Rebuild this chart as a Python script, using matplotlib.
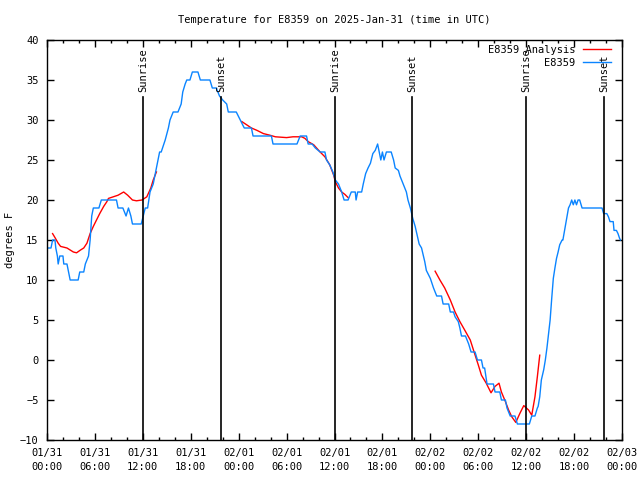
import matplotlib
matplotlib.use("Agg")
from matplotlib import pyplot as plt
from matplotlib.ticker import MultipleLocator

# hours since 2025-01-31 00:00 UTC
obs_hours = [0.1, 0.5, 0.7, 1.0, 1.1, 1.3, 1.4, 1.6, 2.0, 2.1, 2.5, 2.7, 2.9, 3.9, 4.1, 4.6, 4.8, 5.2,
             5.4, 5.6, 5.8, 6.5, 6.8, 8.7, 8.9, 9.5, 9.9, 10.2, 10.5, 10.7, 11.8, 12.3, 12.6, 12.9, 13.3,
             13.7, 14.1, 14.3, 14.8, 15.2, 15.4, 15.8, 16.4, 16.8, 17.0, 17.3, 17.5, 17.9, 18.2, 18.9,
             19.2, 20.4, 20.7, 21.2, 21.6, 22.0, 22.5, 22.7, 23.7, 24.2, 24.7, 25.6, 25.8, 28.1, 28.3,
             31.3, 31.7, 32.5, 32.7, 33.2, 33.6, 34.2, 34.8, 35.0, 35.4, 35.8, 36.1, 36.5, 36.9, 37.2,
             37.7, 38.1, 38.6, 38.7, 38.9, 39.4, 39.6, 39.9, 40.2, 40.5, 40.8, 41.1, 41.4, 41.6, 41.8,
             42.0, 42.2, 42.5, 43.1, 43.4, 43.6, 44.0, 44.2, 44.6, 45.0, 45.2, 45.5, 45.8, 46.1, 46.3,
             46.6, 46.9, 47.3, 47.5, 48.0, 48.4, 48.8, 49.4, 49.6, 50.3, 50.5, 50.9, 51.1, 51.5, 51.7,
             51.9, 52.4, 52.8, 53.1, 53.6, 53.9, 54.4, 54.6, 54.8, 55.1, 55.9, 56.1, 56.7, 56.9, 57.4,
             57.6, 58.0, 58.6, 58.9, 60.4, 60.7, 61.1, 61.4, 61.5, 61.7, 61.9, 62.2, 62.4, 62.6, 62.8,
             63.0, 63.2, 63.4, 63.6, 63.8, 64.0, 64.2, 64.5, 64.6, 64.9, 65.1, 65.3, 65.5, 65.7, 65.9,
             66.1, 66.3, 66.5, 66.7, 67.0, 69.5, 69.7, 70.1, 70.3, 70.5, 70.9, 71.0, 71.3, 71.5, 71.7,
             71.8]
obs_temp = [14, 14, 15, 15, 14, 13, 12, 13, 13, 12, 12, 11, 10, 10, 11, 11, 12, 13,
            15, 18, 19, 19, 20, 20, 19, 19, 18, 19, 18, 17, 17, 19, 19, 21, 22,
            24, 26, 26, 27.5, 29, 30, 31, 31, 32, 33.5, 34.5, 35, 35, 36, 36,
            35, 35, 34, 34, 33, 32.5, 32, 31, 31, 30, 29, 29, 28, 28, 27,
            27, 28, 28, 27, 27, 26.5, 26, 26, 25, 24.4, 23.5, 22.5, 22, 21, 20,
            20, 21, 21, 20, 21, 21, 22, 23.3, 24, 24.6, 25.8, 26.2, 27, 26, 25,
            26, 25, 26, 26, 25, 24, 23.7, 23, 22, 21, 20, 19, 17.7, 16.7, 15.8,
            14.5, 14, 12.3, 11.2, 10.2, 9, 8, 8, 7, 7, 6, 6, 5.4, 4.8, 4,
            3, 3, 2, 1, 1, 0, 0, -1, -1, -3, -3, -4, -4, -5, -5,
            -6, -7, -7, -8, -8, -7, -7, -6, -5.8, -4.6, -2.5, -1.2, 0, 1.5, 3.3,
            5, 7.7, 10.2, 11.5, 12.7, 13.5, 14.4, 15, 15, 16.7, 17.9, 19, 19.4, 20, 19.4,
            20, 19.4, 20, 20, 19, 19, 18.3, 18.3, 17.9, 17.3, 17.3, 16.2, 16.2, 15.8, 15.2,
            15]

# analysis series, three separate pieces
ana1_hours = [0.7, 1.0, 1.4, 1.7, 2.5, 2.9, 3.3, 3.7, 4.2, 4.6, 5.0, 5.4, 5.8, 6.2, 6.6, 7.1,
              7.5, 7.7, 8.3, 8.9, 9.6, 10.1, 10.7, 11.2, 11.9, 12.5, 13.0, 13.3, 13.7]
ana1_temp = [15.8, 15.3, 14.6, 14.2, 14.0, 13.75, 13.5, 13.4, 13.75, 14.0, 14.6, 15.8, 16.7, 17.5,
             18.3, 19.2, 19.8, 20.2, 20.4, 20.6, 21.0, 20.6, 20.0, 19.9, 20.0, 20.4, 21.5, 22.5, 23.5]
ana2_hours = [24.4, 25.0, 25.6, 26.3, 27.1, 27.9, 28.6, 30.0, 30.8, 31.9, 32.3, 32.7, 33.4, 34.2,
              34.8, 35.4, 35.9, 36.1, 36.5, 36.9, 37.3, 37.7]
ana2_temp = [29.8, 29.4, 29.0, 28.7, 28.3, 28.1, 27.9, 27.8, 27.9, 27.9, 27.7, 27.3, 26.9, 26.0,
             25.4, 24.4, 23.1, 22.3, 21.5, 21.0, 20.7, 20.3]
ana3_hours = [48.6, 49.2, 49.8, 50.5, 51.1, 51.7, 52.3, 53.0, 53.4, 54.0, 54.4, 55.0, 55.6, 56.1,
              56.6, 56.9, 57.4, 57.8, 58.2, 58.7, 59.2, 59.7, 60.3, 60.7, 61.1, 61.4, 61.7]
ana3_temp = [11.1, 10.0, 9.0, 7.5, 6.0, 4.8, 3.75, 2.5, 1.25, -0.6, -1.9, -2.9, -4.1, -3.3,
             -2.9, -4.0, -5.2, -6.25, -7.1, -7.8, -6.7, -5.7, -6.25, -6.9, -4.6, -2.1, 0.6]

sunrise_hours = [12.0, 36.05, 60.0]
sunset_hours = [21.8, 45.7, 69.75]

tick_hours = list(range(0, 73, 6))
tick_labels = ["01/31\n00:00", "01/31\n06:00", "01/31\n12:00", "01/31\n18:00",
               "02/01\n00:00", "02/01\n06:00", "02/01\n12:00", "02/01\n18:00",
               "02/02\n00:00", "02/02\n06:00", "02/02\n12:00", "02/02\n18:00",
               "02/03\n00:00"]

plt.rcParams['font.family'] = ['DejaVu Sans Mono']
fs = 7.5

fig = plt.figure(figsize=(6.4, 4.8), dpi=100)
ax = fig.add_axes([47 / 640, 40 / 480, 575 / 640, 400 / 480])

red = "#ff0000"
blue = "#0a84ff"

ax.plot(ana1_hours, ana1_temp, color=red, lw=1.0, label="E8359 Analysis")
ax.plot(ana2_hours, ana2_temp, color=red, lw=1.0)
ax.plot(ana3_hours, ana3_temp, color=red, lw=1.0)
ax.plot(obs_hours, obs_temp, color=blue, lw=1.0, label="E8359")

line_top = (32.9 + 10) / 50
for h in sunrise_hours:
    ax.axvline(h, ymin=0, ymax=line_top, color="black", lw=1.2)
    ax.text(h, 33.5, "Sunrise", rotation=90, ha="center", va="bottom", fontsize=fs)
for h in sunset_hours:
    ax.axvline(h, ymin=0, ymax=line_top, color="black", lw=1.2)
    ax.text(h, 33.5, "Sunset", rotation=90, ha="center", va="bottom", fontsize=fs)

ax.set_xlim(0, 72)
ax.set_ylim(-10, 40)
ax.set_xticks(tick_hours)
ax.set_xticklabels(tick_labels, fontsize=fs, linespacing=1.5)
ax.xaxis.set_minor_locator(MultipleLocator(2))
ax.yaxis.set_major_locator(MultipleLocator(5))
ax.tick_params(axis="both", which="major", direction="in", length=5, width=1,
               top=True, right=True, labelsize=fs, pad=6)
ax.tick_params(axis="x", which="minor", direction="in", length=2.5, width=1, top=True)
for s in ax.spines.values():
    s.set_linewidth(1.0)

fig.text(10 / 640, 240 / 480, "degrees F", rotation=90, ha="center", va="center", fontsize=fs)
ax.set_title("Temperature for E8359 on 2025-Jan-31 (time in UTC)", fontsize=fs, pad=12)

ax.legend(loc="upper right", frameon=False, markerfirst=False, fontsize=fs,
          handlelength=2.7, handletextpad=0.7, borderaxespad=0, borderpad=0,
          labelspacing=0.25, bbox_to_anchor=(611 / 640, 435 / 480),
          bbox_transform=fig.transFigure)

fig.savefig("out.png", dpi=100)
